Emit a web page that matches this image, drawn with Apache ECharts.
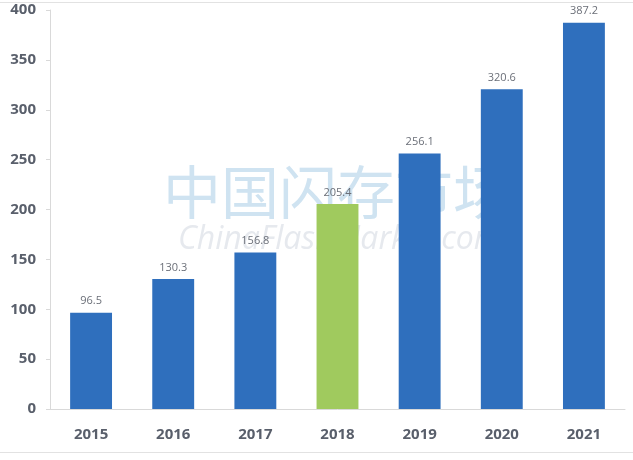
<!DOCTYPE html>
<html><head><meta charset="utf-8">
<script src="https://cdn.jsdelivr.net/npm/echarts@6/dist/echarts.min.js"></script>
<style>html,body{margin:0;padding:0;background:#fff}#c{width:633px;height:460px}</style>
</head><body><div id="c"></div>
<script>
const categories = ['2015','2016','2017','2018','2019','2020','2021'];
const values = [96.5, 130.3, 156.8, 205.4, 256.1, 320.6, 387.2];
const highlightCategory = '2018';
const yTicks = [0, 50, 100, 150, 200, 250, 300, 350, 400];

const chart = echarts.init(document.getElementById('c'), null, {renderer:'canvas'});
chart.setOption({
  backgroundColor: '#fff',
  animation: false,
  grid: {left: 50, right: 8, top: 10, bottom: 51, containLabel: false},
  graphic: [
    {type:'rect', z:-10, shape:{x:0,y:2,width:633,height:1}, style:{fill:'#e2e2e2'}},
    {type:'rect', z:-10, shape:{x:0,y:452,width:633,height:1}, style:{fill:'#e2e2e2'}},
    {type:'text', z:-5, left:163, top:163, style:{text:'中国闪存市场', font:'58px "Noto Sans CJK SC"', fill:'#cfe3f1'}},
    {type:'text', z:-5, left:178, top:224, style:{text:'ChinaFlashMarket.com', font:'italic 32px "Open Sans"', fill:'#e6e9ee'}}
  ],
  xAxis: {
    type: 'category', data: categories,
    axisLine: {lineStyle:{color:'#d9d9d9'}},
    axisTick: {show:false},
    axisLabel: {color:'#595f6b', fontWeight:'bold', fontSize:15, fontFamily:'"Open Sans", sans-serif', margin:18}
  },
  yAxis: {
    type: 'value', min: yTicks[0], max: yTicks[yTicks.length-1], interval: 50,
    splitLine: {show:false},
    axisLine: {show:true, lineStyle:{color:'#d9d9d9'}},
    axisTick: {show:true, length:4, lineStyle:{color:'#d9d9d9'}},
    axisLabel: {color:'#595f6b', fontWeight:'bold', fontSize:15, fontFamily:'"Open Sans", sans-serif', margin:14}
  },
  series: [{
    type: 'bar', barWidth: '51%',
    data: values.map((v,i)=>({value:v, itemStyle:{color: categories[i]===highlightCategory ? '#a0ca5e' : '#2f6fbd'}})),
    label: {show:true, position:'top', distance:6, color:'#6b6f78', fontSize:11, fontFamily:'"Open Sans", sans-serif'}
  }]
});
</script></body></html>
